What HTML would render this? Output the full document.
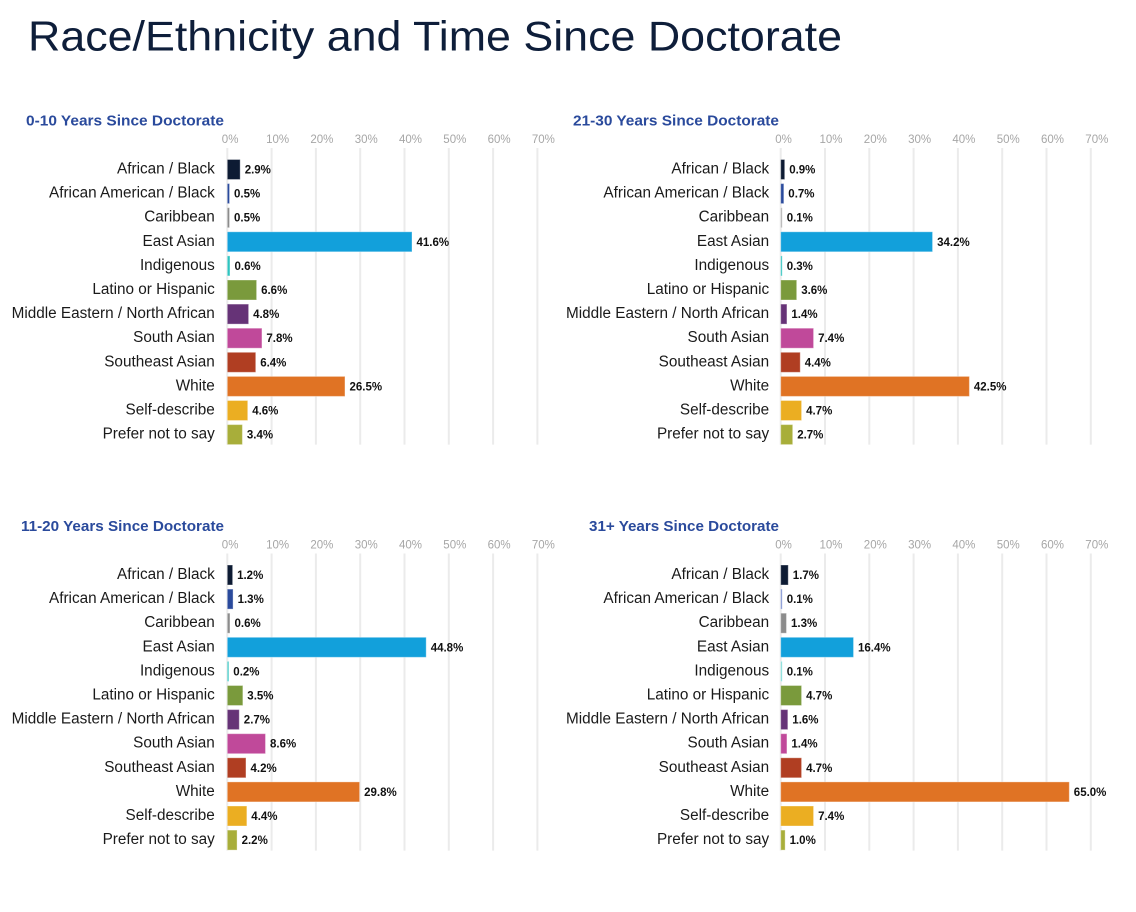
<!DOCTYPE html>
<html><head><meta charset="utf-8"><style>
html,body{margin:0;padding:0;background:#fff;}
svg{display:block;}
.t{font-family:"Liberation Sans",sans-serif;}
.cat{font-family:"Liberation Sans",sans-serif;font-size:15.3px;fill:#1a1a1a;text-anchor:end;}
.val{font-family:"Liberation Sans",sans-serif;font-size:11.5px;font-weight:bold;fill:#111;}
.tick{font-family:"Liberation Sans",sans-serif;font-size:11.5px;fill:#a6a6a6;}
.ttl{font-family:"Liberation Sans",sans-serif;font-size:14.5px;font-weight:bold;fill:#2a4a9c;}
.g{stroke:#ebebeb;stroke-width:2;}
rect{stroke:#fff;stroke-opacity:0.35;stroke-width:1;}
</style></head><body>
<svg width="1136" height="912" viewBox="0 0 1136 912" xmlns="http://www.w3.org/2000/svg">
<rect x="0" y="0" width="1136" height="912" fill="#fff" style="stroke:none"/>
<text class="t" x="28" y="50.7" font-size="42" fill="#0e1e3a" textLength="814" lengthAdjust="spacingAndGlyphs">Race/Ethnicity and Time Since Doctorate</text>

<!-- Panel 1: 0-10 -->
<text class="ttl" x="26" y="125.5" textLength="198" lengthAdjust="spacingAndGlyphs">0-10 Years Since Doctorate</text>
<g>
<line class="g" x1="227.3" y1="148" x2="227.3" y2="444.6"/>
<line class="g" x1="271.6" y1="148" x2="271.6" y2="444.6"/>
<line class="g" x1="315.9" y1="148" x2="315.9" y2="444.6"/>
<line class="g" x1="360.2" y1="148" x2="360.2" y2="444.6"/>
<line class="g" x1="404.5" y1="148" x2="404.5" y2="444.6"/>
<line class="g" x1="448.8" y1="148" x2="448.8" y2="444.6"/>
<line class="g" x1="493.1" y1="148" x2="493.1" y2="444.6"/>
<line class="g" x1="537.4" y1="148" x2="537.4" y2="444.6"/>
<text class="tick" x="221.8" y="143">0%</text>
<text class="tick" x="266.1" y="143">10%</text>
<text class="tick" x="310.4" y="143">20%</text>
<text class="tick" x="354.7" y="143">30%</text>
<text class="tick" x="399.0" y="143">40%</text>
<text class="tick" x="443.3" y="143">50%</text>
<text class="tick" x="487.6" y="143">60%</text>
<text class="tick" x="531.9" y="143">70%</text>
</g>
<text class="cat" x="214.8" y="173.5">African / Black</text>
<text class="cat" x="214.8" y="197.6">African American / Black</text>
<text class="cat" x="214.8" y="221.7">Caribbean</text>
<text class="cat" x="214.8" y="245.8">East Asian</text>
<text class="cat" x="214.8" y="269.9">Indigenous</text>
<text class="cat" x="214.8" y="294.0">Latino or Hispanic</text>
<text class="cat" x="214.8" y="318.1">Middle Eastern / North African</text>
<text class="cat" x="214.8" y="342.2">South Asian</text>
<text class="cat" x="214.8" y="366.3">Southeast Asian</text>
<text class="cat" x="214.8" y="390.4">White</text>
<text class="cat" x="214.8" y="414.5">Self-describe</text>
<text class="cat" x="214.8" y="438.6">Prefer not to say</text>
<rect x="227.3" y="159.5" width="12.88" height="20" fill="#0d1b33"/>
<rect x="227.3" y="183.6" width="2.22" height="20" fill="#2a4a9c"/>
<rect x="227.3" y="207.7" width="2.22" height="20" fill="#8c8c8c"/>
<rect x="227.3" y="231.8" width="184.7" height="20" fill="#12a0db"/>
<rect x="227.3" y="255.9" width="2.66" height="20" fill="#2ec4c0"/>
<rect x="227.3" y="280.0" width="29.3" height="20" fill="#7a9a3c"/>
<rect x="227.3" y="304.1" width="21.31" height="20" fill="#663377"/>
<rect x="227.3" y="328.2" width="34.63" height="20" fill="#c0499a"/>
<rect x="227.3" y="352.3" width="28.42" height="20" fill="#b03e22"/>
<rect x="227.3" y="376.4" width="117.66" height="20" fill="#e07324"/>
<rect x="227.3" y="400.5" width="20.42" height="20" fill="#ebae22"/>
<rect x="227.3" y="424.6" width="15.1" height="20" fill="#a8ae3a"/>
<text class="val" x="244.7" y="173.5">2.9%</text>
<text class="val" x="234.0" y="197.6">0.5%</text>
<text class="val" x="234.0" y="221.7">0.5%</text>
<text class="val" x="416.5" y="245.8">41.6%</text>
<text class="val" x="234.5" y="269.9">0.6%</text>
<text class="val" x="261.1" y="294.0">6.6%</text>
<text class="val" x="253.1" y="318.1">4.8%</text>
<text class="val" x="266.4" y="342.2">7.8%</text>
<text class="val" x="260.2" y="366.3">6.4%</text>
<text class="val" x="349.5" y="390.4">26.5%</text>
<text class="val" x="252.2" y="414.5">4.6%</text>
<text class="val" x="246.9" y="438.6">3.4%</text>

<!-- Panel 2: 21-30 -->
<text class="ttl" x="573" y="125.5" textLength="206" lengthAdjust="spacingAndGlyphs">21-30 Years Since Doctorate</text>
<g>
<line class="g" x1="780.7" y1="148" x2="780.7" y2="444.6"/>
<line class="g" x1="825.0" y1="148" x2="825.0" y2="444.6"/>
<line class="g" x1="869.3" y1="148" x2="869.3" y2="444.6"/>
<line class="g" x1="913.6" y1="148" x2="913.6" y2="444.6"/>
<line class="g" x1="957.9" y1="148" x2="957.9" y2="444.6"/>
<line class="g" x1="1002.2" y1="148" x2="1002.2" y2="444.6"/>
<line class="g" x1="1046.5" y1="148" x2="1046.5" y2="444.6"/>
<line class="g" x1="1090.8" y1="148" x2="1090.8" y2="444.6"/>
<text class="tick" x="775.2" y="143">0%</text>
<text class="tick" x="819.5" y="143">10%</text>
<text class="tick" x="863.8" y="143">20%</text>
<text class="tick" x="908.1" y="143">30%</text>
<text class="tick" x="952.4" y="143">40%</text>
<text class="tick" x="996.7" y="143">50%</text>
<text class="tick" x="1041.0" y="143">60%</text>
<text class="tick" x="1085.3" y="143">70%</text>
</g>
<text class="cat" x="769.2" y="173.5">African / Black</text>
<text class="cat" x="769.2" y="197.6">African American / Black</text>
<text class="cat" x="769.2" y="221.7">Caribbean</text>
<text class="cat" x="769.2" y="245.8">East Asian</text>
<text class="cat" x="769.2" y="269.9">Indigenous</text>
<text class="cat" x="769.2" y="294.0">Latino or Hispanic</text>
<text class="cat" x="769.2" y="318.1">Middle Eastern / North African</text>
<text class="cat" x="769.2" y="342.2">South Asian</text>
<text class="cat" x="769.2" y="366.3">Southeast Asian</text>
<text class="cat" x="769.2" y="390.4">White</text>
<text class="cat" x="769.2" y="414.5">Self-describe</text>
<text class="cat" x="769.2" y="438.6">Prefer not to say</text>
<rect x="780.7" y="159.5" width="4.0" height="20" fill="#0d1b33"/>
<rect x="780.7" y="183.6" width="3.11" height="20" fill="#2a4a9c"/>
<rect x="780.7" y="207.7" width="1.5" height="20" fill="#b0b0b0"/>
<rect x="780.7" y="231.8" width="151.85" height="20" fill="#12a0db"/>
<rect x="780.7" y="255.9" width="1.5" height="20" fill="#2ec4c0"/>
<rect x="780.7" y="280.0" width="15.98" height="20" fill="#7a9a3c"/>
<rect x="780.7" y="304.1" width="6.22" height="20" fill="#663377"/>
<rect x="780.7" y="328.2" width="32.86" height="20" fill="#c0499a"/>
<rect x="780.7" y="352.3" width="19.54" height="20" fill="#b03e22"/>
<rect x="780.7" y="376.4" width="188.7" height="20" fill="#e07324"/>
<rect x="780.7" y="400.5" width="20.87" height="20" fill="#ebae22"/>
<rect x="780.7" y="424.6" width="11.99" height="20" fill="#a8ae3a"/>
<text class="val" x="789.2" y="173.5">0.9%</text>
<text class="val" x="788.3" y="197.6">0.7%</text>
<text class="val" x="786.7" y="221.7">0.1%</text>
<text class="val" x="937.1" y="245.8">34.2%</text>
<text class="val" x="786.7" y="269.9">0.3%</text>
<text class="val" x="801.2" y="294.0">3.6%</text>
<text class="val" x="791.4" y="318.1">1.4%</text>
<text class="val" x="818.1" y="342.2">7.4%</text>
<text class="val" x="804.7" y="366.3">4.4%</text>
<text class="val" x="973.9" y="390.4">42.5%</text>
<text class="val" x="806.1" y="414.5">4.7%</text>
<text class="val" x="797.2" y="438.6">2.7%</text>

<!-- Panel 3: 11-20 -->
<text class="ttl" x="21" y="531" textLength="203" lengthAdjust="spacingAndGlyphs">11-20 Years Since Doctorate</text>
<g>
<line class="g" x1="227.3" y1="553.5" x2="227.3" y2="850.6"/>
<line class="g" x1="271.6" y1="553.5" x2="271.6" y2="850.6"/>
<line class="g" x1="315.9" y1="553.5" x2="315.9" y2="850.6"/>
<line class="g" x1="360.2" y1="553.5" x2="360.2" y2="850.6"/>
<line class="g" x1="404.5" y1="553.5" x2="404.5" y2="850.6"/>
<line class="g" x1="448.8" y1="553.5" x2="448.8" y2="850.6"/>
<line class="g" x1="493.1" y1="553.5" x2="493.1" y2="850.6"/>
<line class="g" x1="537.4" y1="553.5" x2="537.4" y2="850.6"/>
<text class="tick" x="221.8" y="548.5">0%</text>
<text class="tick" x="266.1" y="548.5">10%</text>
<text class="tick" x="310.4" y="548.5">20%</text>
<text class="tick" x="354.7" y="548.5">30%</text>
<text class="tick" x="399.0" y="548.5">40%</text>
<text class="tick" x="443.3" y="548.5">50%</text>
<text class="tick" x="487.6" y="548.5">60%</text>
<text class="tick" x="531.9" y="548.5">70%</text>
</g>
<text class="cat" x="214.8" y="579.0">African / Black</text>
<text class="cat" x="214.8" y="603.1">African American / Black</text>
<text class="cat" x="214.8" y="627.2">Caribbean</text>
<text class="cat" x="214.8" y="651.3">East Asian</text>
<text class="cat" x="214.8" y="675.4">Indigenous</text>
<text class="cat" x="214.8" y="699.5">Latino or Hispanic</text>
<text class="cat" x="214.8" y="723.6">Middle Eastern / North African</text>
<text class="cat" x="214.8" y="747.7">South Asian</text>
<text class="cat" x="214.8" y="771.8">Southeast Asian</text>
<text class="cat" x="214.8" y="795.9">White</text>
<text class="cat" x="214.8" y="820.0">Self-describe</text>
<text class="cat" x="214.8" y="844.1">Prefer not to say</text>
<rect x="227.3" y="565.0" width="5.33" height="20" fill="#0d1b33"/>
<rect x="227.3" y="589.1" width="5.77" height="20" fill="#2a4a9c"/>
<rect x="227.3" y="613.2" width="2.66" height="20" fill="#8c8c8c"/>
<rect x="227.3" y="637.3" width="198.9" height="20" fill="#12a0db"/>
<rect x="227.3" y="661.4" width="1.5" height="20" fill="#2ec4c0"/>
<rect x="227.3" y="685.5" width="15.54" height="20" fill="#7a9a3c"/>
<rect x="227.3" y="709.6" width="11.99" height="20" fill="#663377"/>
<rect x="227.3" y="733.7" width="38.18" height="20" fill="#c0499a"/>
<rect x="227.3" y="757.8" width="18.65" height="20" fill="#b03e22"/>
<rect x="227.3" y="781.9" width="132.31" height="20" fill="#e07324"/>
<rect x="227.3" y="806.0" width="19.54" height="20" fill="#ebae22"/>
<rect x="227.3" y="830.1" width="9.77" height="20" fill="#a8ae3a"/>
<text class="val" x="237.1" y="579.0">1.2%</text>
<text class="val" x="237.6" y="603.1">1.3%</text>
<text class="val" x="234.5" y="627.2">0.6%</text>
<text class="val" x="430.7" y="651.3">44.8%</text>
<text class="val" x="233.3" y="675.4">0.2%</text>
<text class="val" x="247.3" y="699.5">3.5%</text>
<text class="val" x="243.8" y="723.6">2.7%</text>
<text class="val" x="270.0" y="747.7">8.6%</text>
<text class="val" x="250.5" y="771.8">4.2%</text>
<text class="val" x="364.1" y="795.9">29.8%</text>
<text class="val" x="251.3" y="820.0">4.4%</text>
<text class="val" x="241.6" y="844.1">2.2%</text>

<!-- Panel 4: 31+ -->
<text class="ttl" x="589" y="531" textLength="190" lengthAdjust="spacingAndGlyphs">31+ Years Since Doctorate</text>
<g>
<line class="g" x1="780.7" y1="553.5" x2="780.7" y2="850.6"/>
<line class="g" x1="825.0" y1="553.5" x2="825.0" y2="850.6"/>
<line class="g" x1="869.3" y1="553.5" x2="869.3" y2="850.6"/>
<line class="g" x1="913.6" y1="553.5" x2="913.6" y2="850.6"/>
<line class="g" x1="957.9" y1="553.5" x2="957.9" y2="850.6"/>
<line class="g" x1="1002.2" y1="553.5" x2="1002.2" y2="850.6"/>
<line class="g" x1="1046.5" y1="553.5" x2="1046.5" y2="850.6"/>
<line class="g" x1="1090.8" y1="553.5" x2="1090.8" y2="850.6"/>
<text class="tick" x="775.2" y="548.5">0%</text>
<text class="tick" x="819.5" y="548.5">10%</text>
<text class="tick" x="863.8" y="548.5">20%</text>
<text class="tick" x="908.1" y="548.5">30%</text>
<text class="tick" x="952.4" y="548.5">40%</text>
<text class="tick" x="996.7" y="548.5">50%</text>
<text class="tick" x="1041.0" y="548.5">60%</text>
<text class="tick" x="1085.3" y="548.5">70%</text>
</g>
<text class="cat" x="769.2" y="579.0">African / Black</text>
<text class="cat" x="769.2" y="603.1">African American / Black</text>
<text class="cat" x="769.2" y="627.2">Caribbean</text>
<text class="cat" x="769.2" y="651.3">East Asian</text>
<text class="cat" x="769.2" y="675.4">Indigenous</text>
<text class="cat" x="769.2" y="699.5">Latino or Hispanic</text>
<text class="cat" x="769.2" y="723.6">Middle Eastern / North African</text>
<text class="cat" x="769.2" y="747.7">South Asian</text>
<text class="cat" x="769.2" y="771.8">Southeast Asian</text>
<text class="cat" x="769.2" y="795.9">White</text>
<text class="cat" x="769.2" y="820.0">Self-describe</text>
<text class="cat" x="769.2" y="844.1">Prefer not to say</text>
<rect x="780.7" y="565.0" width="7.55" height="20" fill="#0d1b33"/>
<rect x="780.7" y="589.1" width="1.5" height="20" fill="#7b8fd0"/>
<rect x="780.7" y="613.2" width="5.77" height="20" fill="#8c8c8c"/>
<rect x="780.7" y="637.3" width="72.82" height="20" fill="#12a0db"/>
<rect x="780.7" y="661.4" width="1.5" height="20" fill="#7fdcd8"/>
<rect x="780.7" y="685.5" width="20.87" height="20" fill="#7a9a3c"/>
<rect x="780.7" y="709.6" width="7.1" height="20" fill="#663377"/>
<rect x="780.7" y="733.7" width="6.22" height="20" fill="#c0499a"/>
<rect x="780.7" y="757.8" width="20.87" height="20" fill="#b03e22"/>
<rect x="780.7" y="781.9" width="288.6" height="20" fill="#e07324"/>
<rect x="780.7" y="806.0" width="32.86" height="20" fill="#ebae22"/>
<rect x="780.7" y="830.1" width="4.44" height="20" fill="#a8ae3a"/>
<text class="val" x="792.8" y="579.0">1.7%</text>
<text class="val" x="786.7" y="603.1">0.1%</text>
<text class="val" x="791.0" y="627.2">1.3%</text>
<text class="val" x="858.0" y="651.3">16.4%</text>
<text class="val" x="786.7" y="675.4">0.1%</text>
<text class="val" x="806.1" y="699.5">4.7%</text>
<text class="val" x="792.3" y="723.6">1.6%</text>
<text class="val" x="791.4" y="747.7">1.4%</text>
<text class="val" x="806.1" y="771.8">4.7%</text>
<text class="val" x="1073.8" y="795.9">65.0%</text>
<text class="val" x="818.1" y="820.0">7.4%</text>
<text class="val" x="789.6" y="844.1">1.0%</text>
</svg>
</body></html>
